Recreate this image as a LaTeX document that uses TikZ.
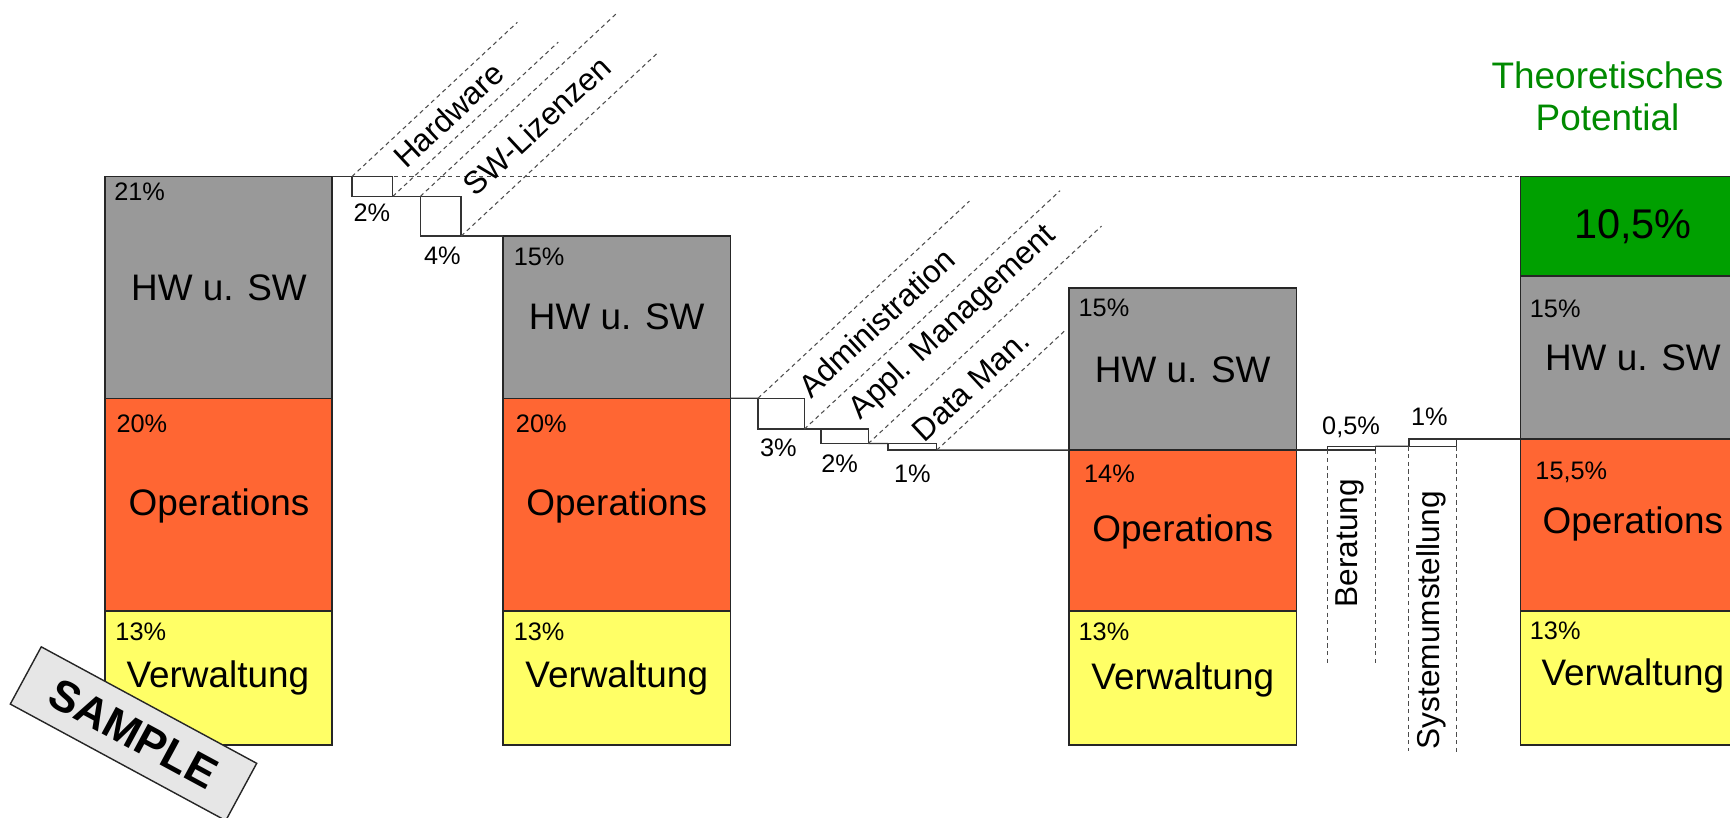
\documentclass[tikz,border=0pt]{standalone}
\usepackage{fontspec}
\setmainfont{Liberation Sans}
\usetikzlibrary{positioning}

\newcommand\pxu{0.011033cm}
\definecolor{hwgray}{HTML}{999999}
\definecolor{opsorange}{HTML}{FF6633}
\definecolor{vwyellow}{HTML}{FFFF66}
\definecolor{potgreen}{HTML}{00A000}
\definecolor{titlegreen}{HTML}{008A00}
\definecolor{stampgray}{HTML}{E6E6E6}

\begin{document}
\begin{tikzpicture}[x=\pxu, y=-\pxu,
  seg/.style={draw=black!85, line width=0.45pt, anchor=north west, inner sep=0pt, outer sep=0pt, minimum width=206*\pxu},
  stepbox/.style={draw=black!80, fill=white, line width=0.4pt, anchor=north west, inner sep=0pt, outer sep=0pt},
  link/.style={black!80, line width=0.4pt},
  guide/.style={black!70, line width=0.3pt, dash pattern=on 1.2pt off 1pt},
  big/.style={font=\fontsize{10.5}{12.6}\selectfont, inner sep=0pt},
  pct/.style={font=\fontsize{7.2}{8.6}\selectfont, anchor=west, inner sep=0pt},
  boxpct/.style={font=\fontsize{7.2}{8.6}\selectfont, inner sep=0pt},
  tilted/.style={font=\fontsize{9}{10.8}\selectfont, inner sep=0pt, rotate=43},
  upright/.style={font=\fontsize{9}{10.8}\selectfont, inner sep=0pt, rotate=90}]

\useasboundingbox (0,0) rectangle (1568,741);
\clip (0,0) rectangle (1568,741);

\node[seg, fill=hwgray, minimum height=201*\pxu] (hwA) at (95,160) {};
\node[seg, fill=opsorange, minimum height=193*\pxu] (opA) at (hwA.south west) {};
\node[seg, fill=vwyellow, minimum height=121*\pxu] (vwA) at (opA.south west) {};

\node[seg, fill=hwgray, minimum height=147*\pxu] (hwB) at (456,214) {};
\node[seg, fill=opsorange, minimum height=193*\pxu] (opB) at (hwB.south west) {};
\node[seg, fill=vwyellow, minimum height=121*\pxu] (vwB) at (opB.south west) {};

\node[seg, fill=hwgray, minimum height=147*\pxu] (hwC) at (969,261) {};
\node[seg, fill=opsorange, minimum height=146*\pxu] (opC) at (hwC.south west) {};
\node[seg, fill=vwyellow, minimum height=121*\pxu] (vwC) at (opC.south west) {};

\node[seg, fill=potgreen, minimum height=90*\pxu] (potD) at (1378,160) {};
\node[seg, fill=hwgray, minimum height=148*\pxu] (hwD) at (potD.south west) {};
\node[seg, fill=opsorange, minimum height=156*\pxu] (opD) at (hwD.south west) {};
\node[seg, fill=vwyellow, minimum height=121*\pxu] (vwD) at (opD.south west) {};

\draw[guide] (hwA.north east) -- (potD.north west);

\node[stepbox, minimum width=37*\pxu, minimum height=18*\pxu] (hwbox) at (319,160) {};
\node[stepbox, minimum width=37*\pxu, minimum height=36*\pxu] (swbox) at (381,178) {};
\node[stepbox, minimum width=42*\pxu, minimum height=28*\pxu] (adbox) at (687,361) {};
\node[stepbox, minimum width=43*\pxu, minimum height=13*\pxu] (apbox) at (744,389) {};
\node[stepbox, minimum width=44*\pxu, minimum height=6*\pxu] (dmbox) at (805,402) {};
\node[stepbox, minimum width=43.5*\pxu, minimum height=3.5*\pxu] (bebox) at (1203,404.5) {};
\node[stepbox, minimum width=43*\pxu, minimum height=6.5*\pxu] (sybox) at (1277,398) {};

\draw[link] (hwA.north east) -- (hwbox.north west);
\draw[link] (hwbox.south east) -- (swbox.north west);
\draw[link] (swbox.south east) -- (hwB.north west);
\draw[link] (hwB.south east) -- (adbox.north west);
\draw[link] (adbox.south east) -- (apbox.north west);
\draw[link] (apbox.south east) -- (dmbox.north west);
\draw[link] (dmbox.south east) -- (hwC.south west);
\draw[link] (hwC.south east) -- (bebox.south west);
\draw[link] (bebox.north east) -- (sybox.south west);
\draw[link] (sybox.north east) -- (hwD.south west);

\draw[guide] (hwbox.north west) -- ++(-43:205) coordinate (hwtipA);
\draw[guide] (hwbox.south east) -- ++(-43:205) coordinate (hwtipB);
\draw[guide] (swbox.north west) -- ++(-43:244) coordinate (swtipA);
\draw[guide] (swbox.south east) -- ++(-43:244) coordinate (swtipB);
\draw[guide] (adbox.north west) -- ++(-43:262) coordinate (adtipA);
\draw[guide] (adbox.south east) -- ++(-43:317) coordinate (adtipB);
\draw[guide] (apbox.south east) -- ++(-43:289) coordinate (aptipB);
\draw[guide] (dmbox.south east) -- ++(-43:158) coordinate (dmtipB);
\draw[guide] (bebox.south west) -- ++(0,193) coordinate (beendA);
\draw[guide] (bebox.south east) -- ++(0,196) coordinate (beendB);
\draw[guide] (sybox.south west) -- ++(0,276) coordinate (syendA);
\draw[guide] (sybox.south east) -- ++(0,277) coordinate (syendB);

\node[boxpct] (hwboxp) at (337,192.5) {2\%};
\node[boxpct] (swboxp) at (401,231.5) {4\%};
\node[boxpct] (adboxp) at (705.5,406) {3\%};
\node[boxpct] (apboxp) at (761,420) {2\%};
\node[boxpct] (dmboxp) at (827,429) {1\%};
\node[boxpct] (beboxp) at (1224.5,387.5) {0,5\%};
\node[boxpct] (syboxp) at (1295.5,377.5) {1\%};

\node[tilted] (hwtxt) at (406.5,104) {Hardware};
\node[tilted] (swtxt) at (486.5,114) {SW-Lizenzen};
\node[tilted] (adtxt) at (794.5,292.5) {Administration};
\node[tilted] (aptxt) at (864,292.5) {Appl. Management};
\node[tilted] (dmtxt) at (880,349.5) {Data Man.};
\node[upright] (betxt) at (1223.5,492.5) {Beratung};
\node[upright] (sytxt) at (1297.5,562) {Systemumstellung};

\node[pct] (hwAp) at (103,174) {21\%};
\node[pct] (opAp) at (105,384) {20\%};
\node[pct] (vwAp) at (104,573) {13\%};
\node[big] (hwAt) at (198.5,260.5) {HW u. SW};
\node[big] (opAt) at (198.5,458.5) {Operations};
\node[big] (vwAt) at (197.5,614.5) {Verwaltung};

\node[pct] (hwBp) at (465,232.5) {15\%};
\node[pct] (opBp) at (467,384) {20\%};
\node[pct] (vwBp) at (465,573) {13\%};
\node[big] (hwBt) at (559,287.5) {HW u. SW};
\node[big] (opBt) at (559,458.5) {Operations};
\node[big] (vwBt) at (559,614.5) {Verwaltung};

\node[pct] (hwCp) at (977,279) {15\%};
\node[pct] (opCp) at (982,429) {14\%};
\node[pct] (vwCp) at (977,572.5) {13\%};
\node[big] (hwCt) at (1072,335.5) {HW u. SW};
\node[big] (opCt) at (1072,482) {Operations};
\node[big] (vwCt) at (1072,616) {Verwaltung};

\node[big, text=titlegreen, align=center, font=\fontsize{10.5}{11.8}\selectfont] (potTitle) at (1457,87.5) {Theoretisches\\Potential};
\node[big, font=\fontsize{11.8}{14}\selectfont] (potDt) at (1480,205.5) {10,5\%};
\node[pct] (hwDp) at (1386,280) {15\%};
\node[pct] (opDp) at (1391,428) {15,5\%};
\node[pct] (vwDp) at (1386,572) {13\%};
\node[big] (hwDt) at (1480,324) {HW u. SW};
\node[big] (opDt) at (1480,475) {Operations};
\node[big] (vwDt) at (1480,612.5) {Verwaltung};

\node[draw=black!85, fill=stampgray, line width=0.4pt, rotate=-28.4, minimum width=222*\pxu, minimum height=59*\pxu, inner sep=0pt, font=\fontsize{12.5}{15}\selectfont\bfseries] (stamp) at (121,665) {SAMPLE};

\end{tikzpicture}
\end{document}
